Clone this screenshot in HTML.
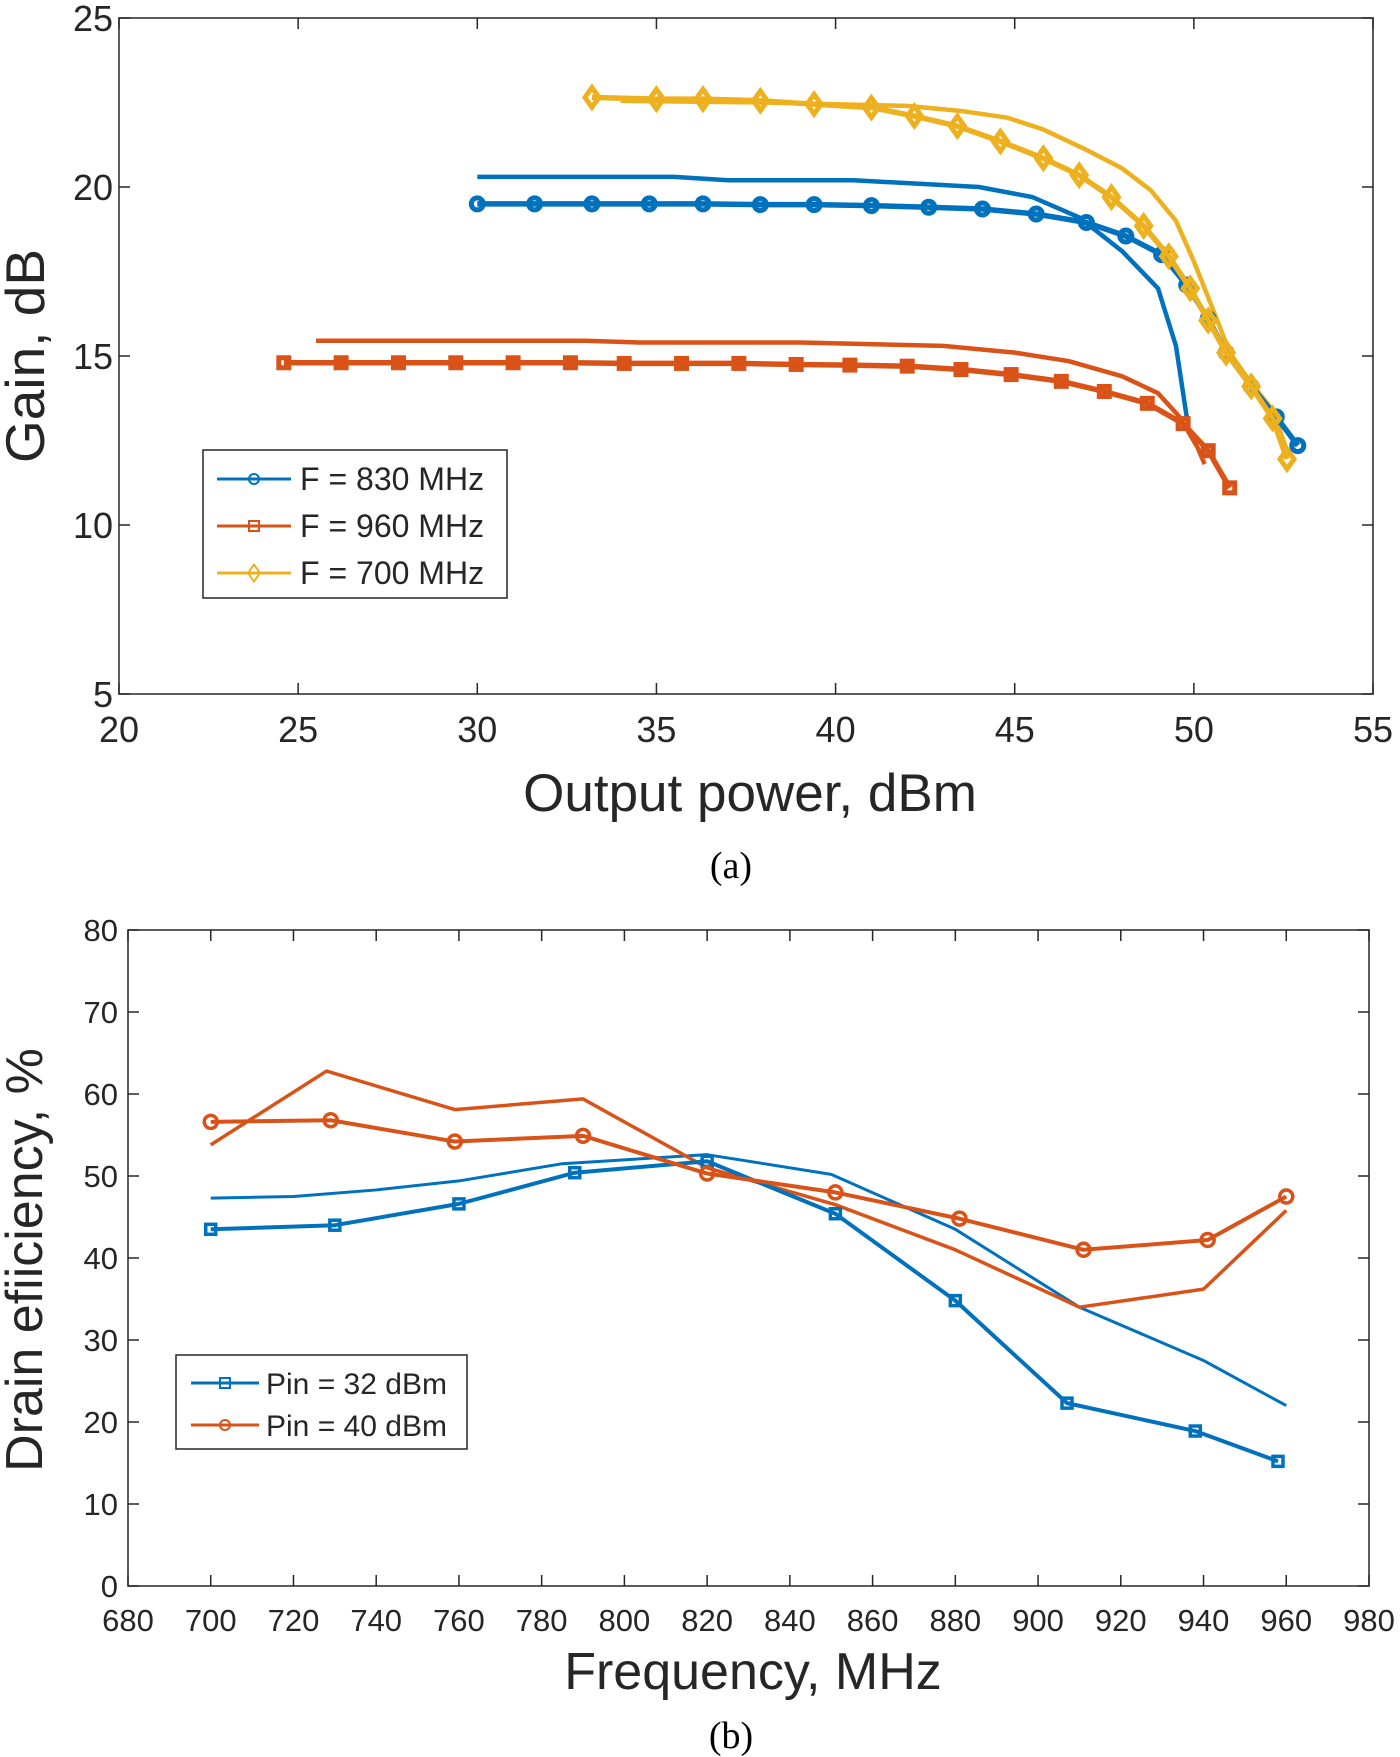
<!DOCTYPE html>
<html><head><meta charset="utf-8"><style>
body{margin:0;background:#fff;}
svg{display:block;font-family:"Liberation Sans",Arial,sans-serif;}
</style></head><body>
<svg id="s" width="1400" height="1757" viewBox="0 0 1400 1757"></svg>
<script>
// ---- chart (a) data ----
const aXTicks=[20,25,30,35,40,45,50,55];
const aYTicks=[5,10,15,20,25];
const b830mX=[30,31.6,33.2,34.8,36.3,37.9,39.4,41.0,42.6,44.1,45.6,47.0,48.1,49.1,49.8,50.4,50.9,51.6,52.3,52.9];
const b830mY=[19.5,19.5,19.5,19.5,19.5,19.48,19.48,19.45,19.4,19.35,19.2,18.95,18.55,18.0,17.1,16.1,15.1,14.1,13.2,12.35];
const b830lX=[30,35.5,37,40.5,44,45.5,46.8,48,49,49.5,49.8];
const b830lY=[20.3,20.3,20.2,20.2,20.0,19.7,19.1,18.1,17.0,15.3,13.2];
const o960mX=[24.6,26.2,27.8,29.4,31.0,32.6,34.1,35.7,37.3,38.9,40.4,42.0,43.5,44.9,46.3,47.5,48.7,49.7,50.4,51.0];
const o960mY=[14.8,14.8,14.8,14.8,14.8,14.8,14.78,14.78,14.78,14.75,14.73,14.7,14.6,14.45,14.25,13.95,13.6,13.0,12.2,11.1];
const o960lX=[25.5,33,34.5,39,43,45,46.5,48,49,49.6,50.1,50.3];
const o960lY=[15.45,15.45,15.4,15.4,15.3,15.1,14.85,14.4,13.9,13.2,12.3,11.8];
const y700mX=[33.2,35.0,36.3,37.9,39.4,41.0,42.2,43.4,44.6,45.8,46.8,47.7,48.6,49.3,49.9,50.4,50.9,51.6,52.2,52.6];
const y700mY=[22.65,22.6,22.6,22.55,22.45,22.35,22.1,21.8,21.35,20.85,20.35,19.7,18.85,17.95,17.0,16.05,15.1,14.1,13.15,11.95];
const y700lX=[34,38,42,43.5,44.8,45.8,47,48,48.8,49.5,50,50.6,51,51.6,52.2,52.6];
const y700lY=[22.55,22.5,22.4,22.25,22.05,21.7,21.1,20.55,19.9,19.0,17.8,16.2,15.1,14.2,13.4,12.2];
// ---- chart (b) data ----
const bXTicks=[680,700,720,740,760,780,800,820,840,860,880,900,920,940,960,980];
const bYTicks=[0,10,20,30,40,50,60,70,80];
const p32mX=[700,730,760,788,820,851,880,907,938,958];
const p32mY=[43.5,44.0,46.6,50.4,51.8,45.4,34.8,22.3,18.9,15.2];
const p32lX=[700,720,740,760,785,820,850,880,910,940,960];
const p32lY=[47.3,47.5,48.3,49.4,51.5,52.6,50.2,43.5,34.0,27.5,22.0];
const p40mX=[700,729,759,790,820,851,881,911,941,960];
const p40mY=[56.6,56.8,54.2,54.9,50.3,48.0,44.8,41.0,42.2,47.5];
const p40lX=[700,728,759,790,820,851,880,910,940,960];
const p40lY=[53.8,62.8,58.1,59.4,51.0,46.5,41.0,34.0,36.2,45.8];

const NS="http://www.w3.org/2000/svg";
const svg=document.getElementById('s');
function mk(tag,attrs,parent){const e=document.createElementNS(NS,tag);for(const k in attrs)e.setAttribute(k,attrs[k]);(parent||svg).appendChild(e);return e;}
const BLUE="#0072BD",ORANGE="#D95319",YEL="#EDB120";

function axes(g,L,R,T,B,xt,yt,sx,sy,fs,xlabY,ylabX){
  const box=mk('rect',{x:L,y:T,width:R-L,height:B-T,fill:'none',stroke:'#262626','stroke-width':1.5},g);
  
  
  xt.forEach(v=>{const x=sx(v);
    mk('line',{x1:x,y1:B,x2:x,y2:B-11,stroke:'#262626','stroke-width':1.5},g);
    mk('line',{x1:x,y1:T,x2:x,y2:T+11,stroke:'#262626','stroke-width':1.5},g);
    const t=mk('text',{x:x,y:xlabY,'font-size':fs,'text-anchor':'middle',fill:'#262626'},g);t.textContent=v;
    
    });
  yt.forEach(v=>{const y=sy(v);
    mk('line',{x1:L,y1:y,x2:L+11,y2:y,stroke:'#262626','stroke-width':1.5},g);
    mk('line',{x1:R,y1:y,x2:R-11,y2:y,stroke:'#262626','stroke-width':1.5},g);
    const t=mk('text',{x:ylabX,y:y+fs*0.36,'font-size':fs,'text-anchor':'end',fill:'#262626'},g);t.textContent=v;
    
    });
}
function line(g,xs,ys,sx,sy,col,w,name){
  const p=mk('polyline',{points:xs.map((x,i)=>sx(x)+','+sy(ys[i])).join(' '),fill:'none',stroke:col,'stroke-width':w,'stroke-linejoin':'round'},g);
  
  
}
function marker(g,type,x,y,col,r,sw){
  let m;
  if(type==='o')m=mk('circle',{cx:x,cy:y,r:r,fill:'none',stroke:col,'stroke-width':sw},g);
  else if(type==='s')m=mk('rect',{x:x-r,y:y-r,width:2*r,height:2*r,fill:'none',stroke:col,'stroke-width':sw},g);
  else m=mk('polygon',{points:`${x},${y-r*1.4} ${x+r},${y} ${x},${y+r*1.4} ${x-r},${y}`,fill:'none',stroke:col,'stroke-width':sw},g);
  
  
}
function markers(g,xs,ys,sx,sy,type,col,r,sw){xs.forEach((x,i)=>marker(g,type,sx(x),sy(ys[i]),col,r,sw));}

// ---- chart (a) ----
const ga=mk('g',{});
const aL=119,aR=1373,aT=18,aB=694;
const ax=v=>aL+(v-20)/35*(aR-aL), ay=v=>aB-(v-5)/20*(aB-aT);
axes(ga,aL,aR,aT,aB,aXTicks,aYTicks,ax,ay,36,742,113);
line(ga,b830lX,b830lY,ax,ay,BLUE,4.5,'series-830-line');
line(ga,o960lX,o960lY,ax,ay,ORANGE,4.5,'series-960-line');
line(ga,y700lX,y700lY,ax,ay,YEL,4.5,'series-700-line');
line(ga,o960mX,o960mY,ax,ay,ORANGE,5.5,'series-960-marked');
markers(ga,o960mX,o960mY,ax,ay,'s',ORANGE,5,5);
line(ga,b830mX,b830mY,ax,ay,BLUE,5.5,'series-830-marked');
markers(ga,b830mX,b830mY,ax,ay,'o',BLUE,6,5);
line(ga,y700mX,y700mY,ax,ay,YEL,5.5,'series-700-marked');
markers(ga,y700mX,y700mY,ax,ay,'d',YEL,7,5);
let t;
t=mk('text',{x:750,y:811,'font-size':53,'text-anchor':'middle',fill:'#262626'},ga);t.textContent='Output power, dBm';

t=mk('text',{transform:'translate(44,356) rotate(-90)','font-size':55,'text-anchor':'middle',fill:'#262626'},ga);t.textContent='Gain, dB';

// legend a
const la=mk('g',{});
mk('rect',{x:203,y:450,width:304,height:148,fill:'#fff',stroke:'#262626','stroke-width':1.5},la);
[['o',BLUE,'F = 830 MHz'],['s',ORANGE,'F = 960 MHz'],['d',YEL,'F = 700 MHz']].forEach((e,i)=>{
  const y=479+i*47;
  const g=mk('g',{},la);
  mk('line',{x1:217,y1:y,x2:291,y2:y,stroke:e[1],'stroke-width':3},g);
  marker(g,e[0],254,y,e[1],e[0]==='d'?6:5,2);
  const tt=mk('text',{x:300,y:y+11,'font-size':32,fill:'#262626'},g);tt.textContent=e[2];
});
t=mk('text',{x:731,y:878,'font-size':38,'text-anchor':'middle',fill:'#000','font-family':'"Liberation Serif",serif'});t.textContent='(a)';


// ---- chart (b) ----
const gb=mk('g',{});
const bL=128,bR=1369,bT=930,bB=1586;
const bx=v=>bL+(v-680)/300*(bR-bL), by=v=>bB-v/80*(bB-bT);
axes(gb,bL,bR,bT,bB,bXTicks,bYTicks,bx,by,31,1631,118);
line(gb,p32lX,p32lY,bx,by,BLUE,3,'pin32-line');
line(gb,p40lX,p40lY,bx,by,ORANGE,3.5,'pin40-line');
line(gb,p32mX,p32mY,bx,by,BLUE,4,'pin32-marked');
markers(gb,p32mX,p32mY,bx,by,'s',BLUE,5,3.5);
line(gb,p40mX,p40mY,bx,by,ORANGE,4,'pin40-marked');
markers(gb,p40mX,p40mY,bx,by,'o',ORANGE,6.5,3.5);
t=mk('text',{x:753,y:1689,'font-size':52,'text-anchor':'middle',fill:'#262626'},gb);t.textContent='Frequency, MHz';

t=mk('text',{transform:'translate(42,1260) rotate(-90)','font-size':52,'text-anchor':'middle',fill:'#262626'},gb);t.textContent='Drain efiiciency, %';

const lb=mk('g',{});
mk('rect',{x:176,y:1355,width:291,height:94,fill:'#fff',stroke:'#262626','stroke-width':1.5},lb);
[['s',BLUE,'Pin = 32 dBm'],['o',ORANGE,'Pin = 40 dBm']].forEach((e,i)=>{
  const y=1383+i*42;
  const g=mk('g',{},lb);
  mk('line',{x1:191,y1:y,x2:259,y2:y,stroke:e[1],'stroke-width':3},g);
  marker(g,e[0],225,y,e[1],5,2);
  const tt=mk('text',{x:266,y:y+11,'font-size':30,fill:'#262626'},g);tt.textContent=e[2];
});
t=mk('text',{x:731,y:1748,'font-size':38,'text-anchor':'middle',fill:'#000','font-family':'"Liberation Serif",serif'});t.textContent='(b)';

</script>
</body></html>
